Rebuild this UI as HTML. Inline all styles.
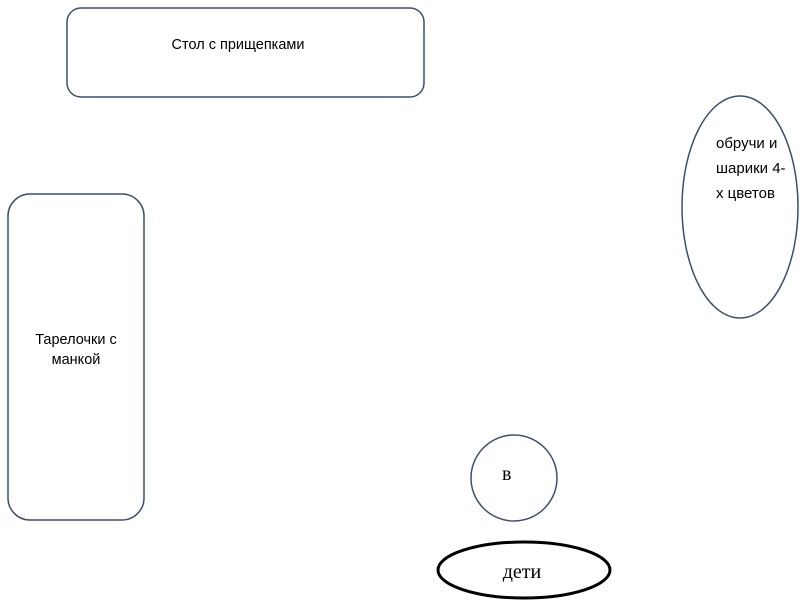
<!DOCTYPE html>
<html><head><meta charset="utf-8"><style>
body{margin:0;background:#fff;width:800px;height:605px;overflow:hidden}
</style></head><body>
<svg width="800" height="605" xmlns="http://www.w3.org/2000/svg" font-family="Liberation Sans, DejaVu Sans, sans-serif">
<rect x="67" y="8" width="357" height="89" rx="14" fill="#fff" stroke="#3c4f6e" stroke-width="1.5"/>
<text x="238" y="49" font-size="14.5" text-anchor="middle">Стол с прищепками</text>
<rect x="8" y="194" width="136" height="326" rx="22" fill="#fff" stroke="#3c4f6e" stroke-width="1.5"/>
<text x="76" y="344" font-size="14.5" text-anchor="middle">Тарелочки с</text>
<text x="76" y="364" font-size="14.5" text-anchor="middle">манкой</text>
<ellipse cx="740" cy="207" rx="58" ry="111" fill="#fff" stroke="#3c4f6e" stroke-width="1.5"/>
<text x="716" y="148" font-size="15">обручи и</text>
<text x="716" y="173" font-size="15">шарики 4-</text>
<text x="716" y="198" font-size="15">х цветов</text>
<circle cx="514" cy="478" r="43" fill="#fff" stroke="#3c4f6e" stroke-width="1.5"/>
<text x="502" y="480" font-size="20" font-family="Liberation Serif, serif">в</text>
<ellipse cx="524" cy="570" rx="86" ry="28" fill="#fff" stroke="#000" stroke-width="3"/>
<text x="522" y="578" font-size="20" text-anchor="middle" font-family="Liberation Serif, serif">дети</text>
</svg>
</body></html>
